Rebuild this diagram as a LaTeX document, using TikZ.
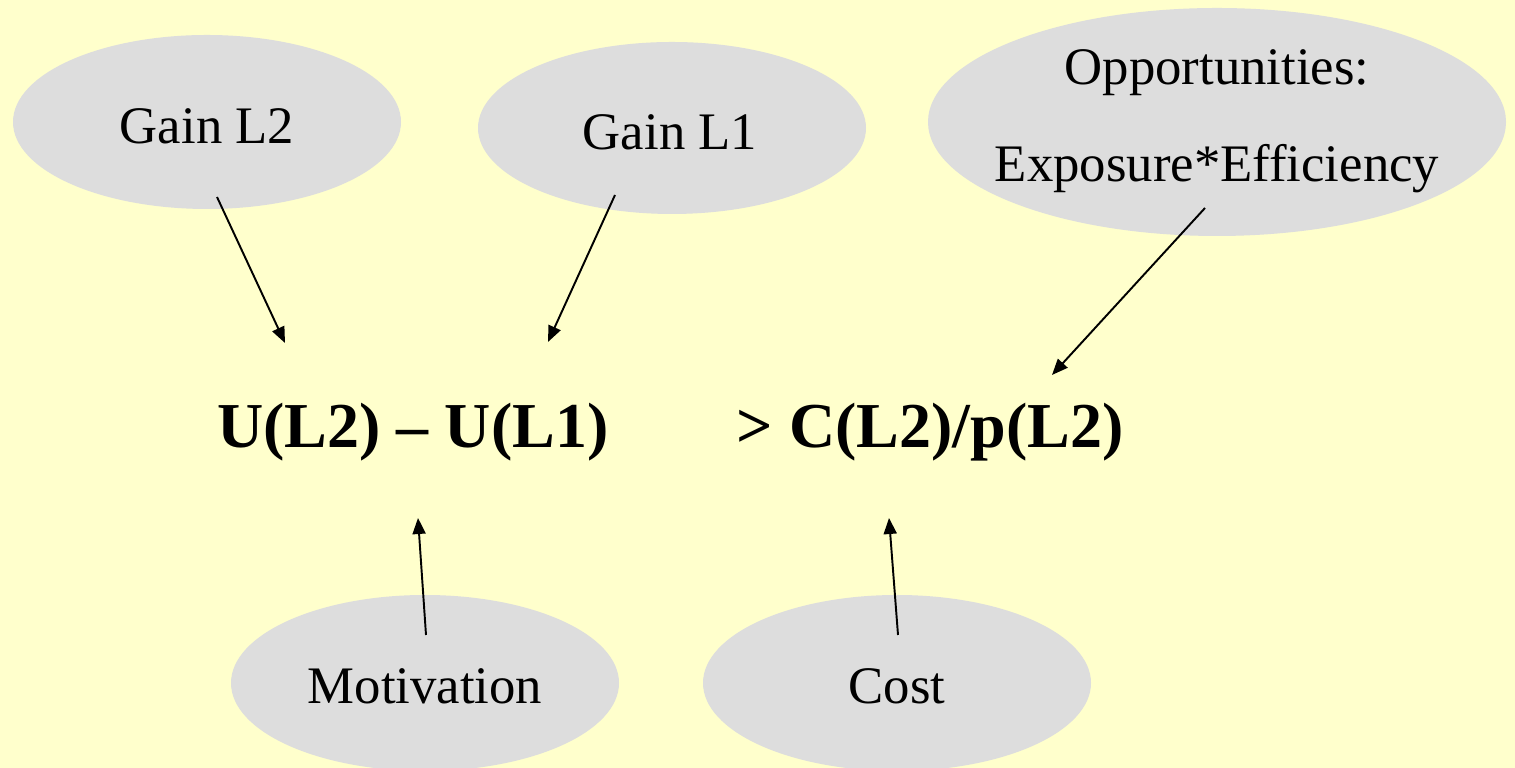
\documentclass[tikz,border=0pt]{standalone}
\usepackage{fontspec}
\setmainfont{Liberation Serif}
\usetikzlibrary{arrows.meta}
\definecolor{bgyellow}{HTML}{FFFFCC}
\definecolor{ellgray}{HTML}{DDDDDD}
\begin{document}
\begin{tikzpicture}[x=0.01cm,y=-0.01cm,
  lbl/.style={font=\fontsize{15}{18}\selectfont,inner sep=0pt},
  formula/.style={font=\fontsize{18.2}{22}\selectfont\bfseries,inner sep=0pt},
  link/.style={line width=0.55pt,-{Triangle[length=0.16cm,width=0.13cm]}}]
\fill[bgyellow] (0,0) rectangle (1515,768);
\useasboundingbox (0,0) rectangle (1515,768);
% ellipses
\fill[ellgray] (207,122) ellipse [x radius=194, y radius=87];
\fill[ellgray] (672,128) ellipse [x radius=194, y radius=86];
\fill[ellgray] (1217,122) ellipse [x radius=289, y radius=114];
\fill[ellgray] (425,683) ellipse [x radius=194, y radius=88];
\fill[ellgray] (897,683) ellipse [x radius=194, y radius=88];
% labels
\node[lbl] (gl2) at (207,126) {Gain L2};
\node[lbl] (gl1) at (670,132) {Gain L1};
\node[lbl] (opp) at (1217,73) {Opportunities:};
\node[lbl] (exp) at (1217,169) {Exposure*Efficiency};
\node[lbl] (mot) at (425,686) {Motivation};
\node[lbl] (cost) at (897,686) {Cost};
\node[formula] (lhs) at (413,432) {U(L2) – U(L1)};
\node[formula] (rhs) at (930,432) {> C(L2)/p(L2)};
% arrow endpoints
\coordinate (a1s) at (217,197);
\coordinate (a1e) at (285,343);
\coordinate (a2s) at (615,195);
\coordinate (a2e) at (548,342);
\coordinate (a3s) at (1205,208);
\coordinate (a3e) at (1052,375);
\coordinate (a4s) at (426,635);
\coordinate (a4e) at (418,518);
\coordinate (a5s) at (898,635);
\coordinate (a5e) at (889,518);
\draw[link] (a1s) -- (a1e);
\draw[link] (a2s) -- (a2e);
\draw[link] (a3s) -- (a3e);
\draw[link] (a4s) -- (a4e);
\draw[link] (a5s) -- (a5e);
\end{tikzpicture}
\end{document}
